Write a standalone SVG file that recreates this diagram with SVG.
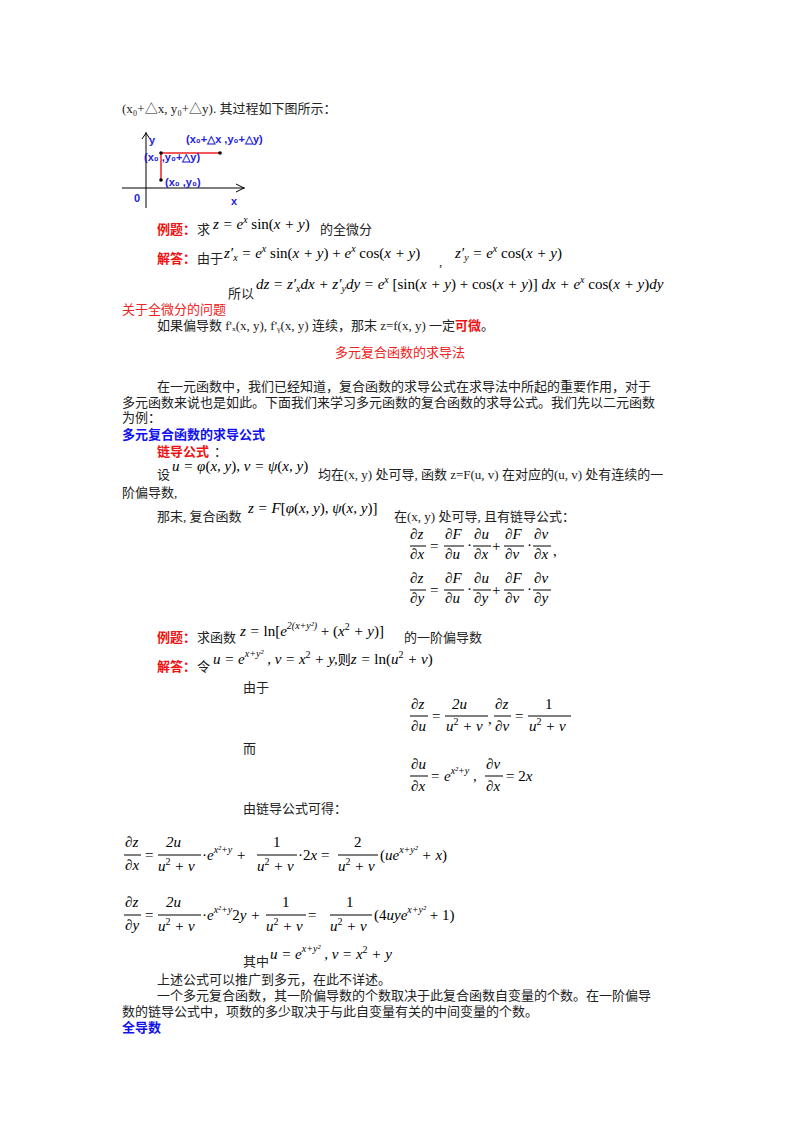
<svg xmlns="http://www.w3.org/2000/svg" width="800" height="1130" viewBox="0 0 800 1130">
<style>
text{font-family:"Liberation Serif","Noto Sans CJK SC",serif;font-size:13px;fill:#222}
.m{font-family:"Liberation Serif",serif;font-style:italic;font-size:15px;fill:#000}
.r{font-family:"Liberation Serif",serif;font-size:15px;fill:#000}
.red{fill:#ee1111;font-weight:bold}
.rt{fill:#ee2222}
.blue{fill:#1111ee;font-weight:bold}
.g{font-family:"Liberation Sans",sans-serif;font-size:11px;fill:#2222dd;font-weight:bold}
.sup{font-size:10px}
line.f{stroke:#000;stroke-width:1}
</style>
<rect width="800" height="1130" fill="#fff"/>
<text x="122" y="113">(x₀+△x, y₀+△y). 其过程如下图所示：</text>
<g id="graph">
<line x1="146" y1="132" x2="146" y2="208" stroke="#000"/>
<line x1="122" y1="188" x2="245" y2="188" stroke="#000"/>
<polyline points="142,139 146,133 150,139" fill="none" stroke="#000"/>
<polyline points="236,184 244,188 236,192" fill="none" stroke="#000"/>
<polyline points="161,180 161,153 220,153" fill="none" stroke="#e22" stroke-width="1.5"/>
<circle cx="161" cy="153" r="1.8"/><circle cx="220" cy="153" r="1.8"/><circle cx="161" cy="180" r="1.8"/>
<text class="g" x="149" y="144" font-size="13">y</text>
<text class="g" x="186" y="143">(x₀+△x ,y₀+△y)</text>
<text class="g" x="144" y="161">(x₀ ,y₀+△y)</text>
<text class="g" x="165" y="186">(x₀ ,y₀)</text>
<text class="g" x="134" y="202" font-size="13">0</text>
<text class="g" x="231" y="205" font-size="13">x</text>
</g>
<text class="red" x="157" y="234">例题：</text><text x="197" y="234">求</text>
<text class="m" x="213" y="229">z = e<tspan class="sup" dy="-6">x</tspan><tspan dy="6" font-style="normal"> sin(</tspan>x + y<tspan font-style="normal">)</tspan></text>
<text x="320" y="234">的全微分</text>
<text class="red" x="157" y="263">解答：</text><text x="197" y="263">由于</text>
<text class="m" x="224" y="258">z′<tspan class="sup" dy="3">x</tspan><tspan dy="-3"> = e</tspan><tspan class="sup" dy="-6">x</tspan><tspan dy="6" font-style="normal"> sin(</tspan>x + y<tspan font-style="normal">) + </tspan>e<tspan class="sup" dy="-6">x</tspan><tspan dy="6" font-style="normal"> cos(</tspan>x + y<tspan font-style="normal">)</tspan></text>
<text x="439" y="266">,</text>
<text class="m" x="455" y="258">z′<tspan class="sup" dy="3">y</tspan><tspan dy="-3"> = e</tspan><tspan class="sup" dy="-6">x</tspan><tspan dy="6" font-style="normal"> cos(</tspan>x + y<tspan font-style="normal">)</tspan></text>
<text x="228" y="298">所以</text>
<text class="m" x="256" y="289">dz = z′<tspan class="sup" dy="3">x</tspan><tspan dy="-3">dx + z′</tspan><tspan class="sup" dy="3">y</tspan><tspan dy="-3">dy = e</tspan><tspan class="sup" dy="-6">x</tspan><tspan dy="6" font-style="normal"> [sin(</tspan>x + y<tspan font-style="normal">) + cos(</tspan>x + y<tspan font-style="normal">)]</tspan> dx + e<tspan class="sup" dy="-6">x</tspan><tspan dy="6" font-style="normal"> cos(</tspan>x + y<tspan font-style="normal">)</tspan>dy</text>
<text class="rt" x="122" y="314">关于全微分的问题</text>
<text x="157" y="330">如果偏导数 f'ₓ(x, y), f'ᵧ(x, y) 连续，那末 z=f(x, y) 一定<tspan class="red">可微</tspan>。</text>
<text class="rt" x="400" y="357" text-anchor="middle">多元复合函数的求导法</text>
<text x="157" y="391">在一元函数中，我们已经知道，复合函数的求导公式在求导法中所起的重要作用，对于</text>
<text x="122" y="407">多元函数来说也是如此。下面我们来学习多元函数的复合函数的求导公式。我们先以二元函数</text>
<text x="122" y="422">为例：</text>
<text class="blue" x="122" y="439">多元复合函数的求导公式</text>
<text class="red" x="157" y="456">链导公式</text><text x="214" y="456">：</text>
<text x="157" y="479">设</text>
<text class="m" x="172" y="471" font-size="16">u = φ<tspan font-style="normal">(</tspan>x, y<tspan font-style="normal">), </tspan>v = ψ<tspan font-style="normal">(</tspan>x, y<tspan font-style="normal">)</tspan></text>
<text x="318" y="479">均在(x, y) 处可导, 函数 z=F(u, v) 在对应的(u, v) 处有连续的一</text>
<text x="122" y="497">阶偏导数,</text>
<text x="157" y="521">那末, 复合函数</text>
<text class="m" x="248" y="513" font-size="16">z = F<tspan font-style="normal">[</tspan>φ<tspan font-style="normal">(</tspan>x, y<tspan font-style="normal">), </tspan>ψ<tspan font-style="normal">(</tspan>x, y<tspan font-style="normal">)]</tspan></text>
<text x="394" y="521">在(x, y) 处可导, 且有链导公式：</text>
<g id="chain">
<text class="m" x="410" y="539">∂z</text><line class="f" x1="410" y1="546" x2="426" y2="546"/><text class="m" x="410" y="559">∂x</text>
<text class="r" x="430" y="551">=</text>
<text class="m" x="445" y="539">∂F</text><line class="f" x1="444" y1="546" x2="464" y2="546"/><text class="m" x="445" y="559">∂u</text>
<text class="r" x="467" y="550">·</text>
<text class="m" x="474" y="539">∂u</text><line class="f" x1="473" y1="546" x2="491" y2="546"/><text class="m" x="474" y="559">∂x</text>
<text class="r" x="492" y="551">+</text>
<text class="m" x="505" y="539">∂F</text><line class="f" x1="504" y1="546" x2="524" y2="546"/><text class="m" x="505" y="559">∂v</text>
<text class="r" x="527" y="550">·</text>
<text class="m" x="534" y="539">∂v</text><line class="f" x1="533" y1="546" x2="551" y2="546"/><text class="m" x="534" y="559">∂x</text>
<text class="r" x="553" y="556">,</text>
<text class="m" x="410" y="583">∂z</text><line class="f" x1="410" y1="590" x2="426" y2="590"/><text class="m" x="410" y="603">∂y</text>
<text class="r" x="430" y="595">=</text>
<text class="m" x="445" y="583">∂F</text><line class="f" x1="444" y1="590" x2="464" y2="590"/><text class="m" x="445" y="603">∂u</text>
<text class="r" x="467" y="594">·</text>
<text class="m" x="474" y="583">∂u</text><line class="f" x1="473" y1="590" x2="491" y2="590"/><text class="m" x="474" y="603">∂y</text>
<text class="r" x="492" y="595">+</text>
<text class="m" x="505" y="583">∂F</text><line class="f" x1="504" y1="590" x2="524" y2="590"/><text class="m" x="505" y="603">∂v</text>
<text class="r" x="527" y="594">·</text>
<text class="m" x="534" y="583">∂v</text><line class="f" x1="533" y1="590" x2="551" y2="590"/><text class="m" x="534" y="603">∂y</text>
</g>
<text class="red" x="157" y="642">例题：</text><text x="197" y="642">求函数</text>
<text class="m" x="240" y="636" font-size="16">z = <tspan font-style="normal">ln[</tspan>e<tspan class="sup" dy="-7">2(x+y²)</tspan><tspan dy="7" font-style="normal"> + (</tspan>x<tspan class="sup" dy="-6" font-style="normal">2</tspan><tspan dy="6"> + y</tspan><tspan font-style="normal">)]</tspan></text>
<text x="404" y="642">的一阶偏导数</text>
<text class="red" x="157" y="671">解答：</text><text x="197" y="671">令</text>
<text class="m" x="213" y="664" font-size="16">u = e<tspan class="sup" dy="-7">x+y²</tspan><tspan dy="7"> , v = x</tspan><tspan class="sup" dy="-6" font-style="normal">2</tspan><tspan dy="6"> + y,</tspan><tspan font-style="normal" font-family="Noto Sans CJK SC" font-size="13">则</tspan>z = <tspan font-style="normal">ln(</tspan>u<tspan class="sup" dy="-6" font-style="normal">2</tspan><tspan dy="6"> + v</tspan><tspan font-style="normal">)</tspan></text>
<text x="243" y="692">由于</text>
<g id="f1">
<text class="m" x="411" y="709">∂z</text><line class="f" x1="410" y1="716" x2="428" y2="716"/><text class="m" x="411" y="731">∂u</text>
<text class="r" x="432" y="721">=</text>
<text class="m" x="452" y="709" font-style="normal">2<tspan font-style="italic">u</tspan></text><line class="f" x1="445" y1="716" x2="488" y2="716"/><text class="m" x="446" y="731">u<tspan class="sup" dy="-6" font-style="normal">2</tspan><tspan dy="6"> + v</tspan></text>
<text class="r" x="488" y="724">,</text>
<text class="m" x="495" y="709">∂z</text><line class="f" x1="494" y1="716" x2="511" y2="716"/><text class="m" x="495" y="731">∂v</text>
<text class="r" x="515" y="721">=</text>
<text class="r" x="545" y="709">1</text><line class="f" x1="528" y1="716" x2="571" y2="716"/><text class="m" x="529" y="731">u<tspan class="sup" dy="-6" font-style="normal">2</tspan><tspan dy="6"> + v</tspan></text>
</g>
<text x="243" y="753">而</text>
<g id="f2">
<text class="m" x="411" y="769">∂u</text><line class="f" x1="410" y1="776" x2="428" y2="776"/><text class="m" x="411" y="791">∂x</text>
<text class="r" x="431" y="781">=</text>
<text class="m" x="444" y="781">e<tspan class="sup" dy="-7">x²+y</tspan><tspan dy="7"> ,</tspan></text>
<text class="m" x="486" y="769">∂v</text><line class="f" x1="485" y1="776" x2="503" y2="776"/><text class="m" x="486" y="791">∂x</text>
<text class="r" x="506" y="781">= 2<tspan font-style="italic">x</tspan></text>
</g>
<text x="243" y="813">由链导公式可得：</text>
<g id="f3">
<text class="m" x="125" y="847">∂z</text><line class="f" x1="124" y1="855" x2="141" y2="855"/><text class="m" x="125" y="870">∂x</text>
<text class="r" x="145" y="860">=</text>
<text class="m" x="166" y="847" font-style="normal">2<tspan font-style="italic">u</tspan></text><line class="f" x1="158" y1="855" x2="201" y2="855"/><text class="m" x="158" y="871">u<tspan class="sup" dy="-6" font-style="normal">2</tspan><tspan dy="6"> + v</tspan></text>
<text class="m" x="202" y="860"><tspan font-style="normal">·</tspan>e<tspan class="sup" dy="-7">x²+y</tspan><tspan dy="7"> + </tspan></text>
<text class="r" x="273" y="847">1</text><line class="f" x1="257" y1="855" x2="297" y2="855"/><text class="m" x="257" y="871">u<tspan class="sup" dy="-6" font-style="normal">2</tspan><tspan dy="6"> + v</tspan></text>
<text class="r" x="298" y="860">·2<tspan font-style="italic">x</tspan> =</text>
<text class="r" x="354" y="847">2</text><line class="f" x1="338" y1="855" x2="378" y2="855"/><text class="m" x="338" y="871">u<tspan class="sup" dy="-6" font-style="normal">2</tspan><tspan dy="6"> + v</tspan></text>
<text class="m" x="380" y="860"><tspan font-style="normal">(</tspan>ue<tspan class="sup" dy="-7">x+y²</tspan><tspan dy="7"> + x</tspan><tspan font-style="normal">)</tspan></text>
</g>
<g id="f4">
<text class="m" x="125" y="907">∂z</text><line class="f" x1="124" y1="915" x2="141" y2="915"/><text class="m" x="125" y="930">∂y</text>
<text class="r" x="145" y="920">=</text>
<text class="m" x="166" y="907" font-style="normal">2<tspan font-style="italic">u</tspan></text><line class="f" x1="158" y1="915" x2="201" y2="915"/><text class="m" x="158" y="931">u<tspan class="sup" dy="-6" font-style="normal">2</tspan><tspan dy="6"> + v</tspan></text>
<text class="m" x="202" y="920"><tspan font-style="normal">·</tspan>e<tspan class="sup" dy="-7">x²+y</tspan><tspan dy="7" font-style="normal">2</tspan>y + </text>
<text class="r" x="282" y="907">1</text><line class="f" x1="266" y1="915" x2="306" y2="915"/><text class="m" x="266" y="931">u<tspan class="sup" dy="-6" font-style="normal">2</tspan><tspan dy="6"> + v</tspan></text>
<text class="r" x="308" y="920">=</text>
<text class="r" x="346" y="907">1</text><line class="f" x1="330" y1="915" x2="372" y2="915"/><text class="m" x="330" y="931">u<tspan class="sup" dy="-6" font-style="normal">2</tspan><tspan dy="6"> + v</tspan></text>
<text class="m" x="374" y="920"><tspan font-style="normal">(4</tspan>uye<tspan class="sup" dy="-7">x+y²</tspan><tspan dy="7" font-style="normal"> + 1)</tspan></text>
</g>
<text x="243" y="966">其中</text>
<text class="m" x="270" y="959">u = e<tspan class="sup" dy="-7">x+y²</tspan><tspan dy="7"> , v = x</tspan><tspan class="sup" dy="-6" font-style="normal">2</tspan><tspan dy="6"> + y</tspan></text>
<text x="157" y="984">上述公式可以推广到多元，在此不详述。</text>
<text x="157" y="1000">一个多元复合函数，其一阶偏导数的个数取决于此复合函数自变量的个数。在一阶偏导</text>
<text x="122" y="1016">数的链导公式中，项数的多少取决于与此自变量有关的中间变量的个数。</text>
<text class="blue" x="122" y="1032">全导数</text>
</svg>
